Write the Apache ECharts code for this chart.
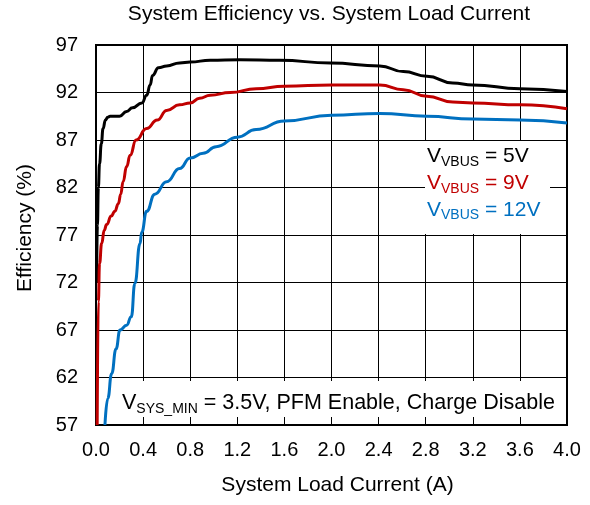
<!DOCTYPE html>
<html>
<head>
<meta charset="utf-8">
<script src="https://cdn.jsdelivr.net/npm/echarts@6/dist/echarts.min.js"></script>
<style>
  html, body { margin: 0; padding: 0; background: #fff; }
  #chart { width: 590px; height: 505px; }
</style>
</head>
<body>
<div id="chart"></div>
<script>
const FONT = '"Liberation Sans", Arial, sans-serif'

// load current (A) and efficiency (%)
const current5V = [0.005, 0.012, 0.02, 0.03, 0.045, 0.06, 0.08, 0.1, 0.12, 0.2, 0.26, 0.31, 0.39, 0.43, 0.46, 0.48, 0.53, 0.6, 0.71, 0.8, 0.97, 1.22, 1.56, 1.99, 2.41, 2.61, 2.81, 3.03, 3.2, 3.6, 4.0]
const eff5V = [72, 78, 82, 84.5, 86.6, 88.2, 89.1, 89.4, 89.5, 89.5, 90.0, 90.4, 90.9, 91.7, 92.8, 93.8, 94.6, 94.8, 95.1, 95.2, 95.4, 95.45, 95.4, 95.1, 94.8, 94.2, 93.7, 93.0, 92.8, 92.4, 92.1]

const current9V = [0.01, 0.02, 0.03, 0.048, 0.07, 0.09, 0.13, 0.16, 0.19, 0.21, 0.23, 0.26, 0.29, 0.34, 0.43, 0.52, 0.6, 0.71, 0.8, 0.88, 0.97, 1.14, 1.36, 1.6, 2.0, 2.41, 2.61, 2.81, 3.03, 3.2, 3.6, 4.0]
const eff9V = [57, 70, 74, 76.1, 77.5, 78.1, 79.0, 79.5, 80.3, 81.3, 82.6, 84.2, 85.4, 87.0, 88.2, 89.1, 90.1, 90.7, 90.9, 91.4, 91.7, 92.0, 92.4, 92.65, 92.8, 92.8, 92.3, 91.6, 91.0, 90.9, 90.7, 90.3]

const current12V = [0.076, 0.1, 0.133, 0.17, 0.204, 0.26, 0.3, 0.33, 0.374, 0.388, 0.43, 0.5, 0.6, 0.71, 0.8, 0.91, 1.02, 1.2, 1.36, 1.6, 2.0, 2.41, 2.81, 3.2, 3.6, 4.0]
const eff12V = [57, 59.8, 62.4, 65, 67.0, 67.5, 68.4, 71.9, 76.1, 77.3, 79.5, 81.3, 82.6, 84.0, 85.1, 85.6, 86.3, 87.3, 88.1, 89.0, 89.6, 89.8, 89.5, 89.2, 89.1, 88.8]

const seriesNames = ['VVBUS = 5V', 'VVBUS = 9V', 'VVBUS = 12V']
const seriesColors = ['#000000', '#C00000', '#0070C0']
const legendValues = ['5V', '9V', '12V']

const effTicks = { min: 57, max: 97, step: 5 }
const currentTicks = { min: 0, max: 4, step: 0.4 }

function pairs(xs, ys) {
  return xs.map((x, i) => [x, ys[i]])
}

const ctx = document.createElement('canvas').getContext('2d')
function textWidth(text, size) {
  ctx.font = size + 'px ' + FONT
  return ctx.measureText(text).width
}

// main letter + subscript + rest of the text, placed on a common baseline
function subscriptText(x, baseline, main, sub, rest, color, size, subSize) {
  const items = []
  const mid = (b, s) => b - 0.33 * s
  let cx = x
  items.push({ type: 'text', x: cx, y: mid(baseline, size), z: 110,
    style: { text: main, font: size + 'px ' + FONT, fill: color, verticalAlign: 'middle' } })
  cx += textWidth(main, size)
  items.push({ type: 'text', x: cx, y: mid(baseline + 3.5, subSize), z: 110,
    style: { text: sub, font: subSize + 'px ' + FONT, fill: color, verticalAlign: 'middle' } })
  cx += textWidth(sub, subSize)
  items.push({ type: 'text', x: cx, y: mid(baseline, size), z: 110,
    style: { text: rest, font: size + 'px ' + FONT, fill: color, verticalAlign: 'middle' } })
  return items
}

const graphics = [
  { type: 'rect', shape: { x: 425, y: 141, width: 125, height: 93 }, style: { fill: '#fff' }, z: 100 },
  { type: 'rect', shape: { x: 118, y: 381, width: 444, height: 36 }, style: { fill: '#fff' }, z: 100 },
  { type: 'text', x: 25, y: 228, rotation: Math.PI / 2, z: 110,
    style: { text: 'Efficiency (%)', font: '21px ' + FONT, fill: '#000', align: 'center', verticalAlign: 'middle' } },
]
legendValues.forEach((v, i) => {
  graphics.push(...subscriptText(427, 163.3 + i * 26.7, 'V', 'VBUS', ' = ' + v, seriesColors[i], 21, 14))
})
graphics.push(...subscriptText(122, 410, 'V', 'SYS_MIN', ' = 3.5V, PFM Enable, Charge Disable', '#000', 21.5, 14))

const chart = echarts.init(document.getElementById('chart'), null, { renderer: 'canvas' })
chart.setOption({
  backgroundColor: '#fff',
  animation: false,
  title: {
    text: 'System Efficiency vs. System Load Current',
    left: 329,
    textAlign: 'center',
    top: 4,
    padding: 0,
    textStyle: { fontFamily: FONT, fontSize: 21, fontWeight: 'normal', color: '#000' },
  },
  grid: {
    left: 96, right: 23, top: 45, bottom: 80,
    show: true, borderColor: '#000', borderWidth: 2, backgroundColor: 'transparent',
  },
  xAxis: {
    type: 'value',
    min: currentTicks.min,
    max: currentTicks.max,
    interval: currentTicks.step,
    name: 'System Load Current (A)',
    nameLocation: 'middle',
    nameGap: 50,
    nameTextStyle: { fontFamily: FONT, fontSize: 21, color: '#000', padding: [0, 0, 0, 12] },
    axisLine: { lineStyle: { color: '#000', width: 2 } },
    axisTick: { show: false },
    axisLabel: { fontFamily: FONT, fontSize: 20, color: '#000', margin: 15, formatter: v => v.toFixed(1) },
    splitLine: { show: true, lineStyle: { color: '#000', width: 1 } },
  },
  yAxis: {
    type: 'value',
    min: effTicks.min,
    max: effTicks.max,
    interval: effTicks.step,
    axisLine: { show: true, lineStyle: { color: '#000', width: 2 } },
    axisTick: { show: false },
    axisLabel: { fontFamily: FONT, fontSize: 20, color: '#000', margin: 18 },
    splitLine: { show: true, lineStyle: { color: '#000', width: 1 } },
  },
  series: [
    [current5V, eff5V],
    [current9V, eff9V],
    [current12V, eff12V],
  ].map(([xs, ys], i) => ({
    name: seriesNames[i],
    type: 'line',
    data: pairs(xs, ys),
    showSymbol: false,
    smooth: 0.5,
    smoothMonotone: 'x',
    lineStyle: { color: seriesColors[i], width: 3 },
    itemStyle: { color: seriesColors[i] },
  })),
  graphic: graphics,
})
</script>
</body>
</html>
